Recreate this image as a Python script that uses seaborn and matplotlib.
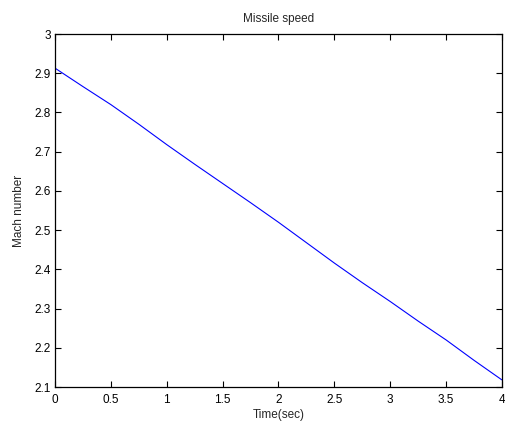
import matplotlib
matplotlib.use("Agg")
import matplotlib.pyplot as plt
import seaborn as sns
import pandas as pd

time_sec = [0, 0.25, 0.5, 0.75, 1.0, 1.25, 1.5, 1.75, 2.0, 2.25, 2.5, 2.75, 3.0, 3.25, 3.5, 3.75, 4.0]
mach = [2.913, 2.866, 2.820, 2.770, 2.718, 2.668, 2.619, 2.570, 2.520, 2.468, 2.416, 2.366, 2.318, 2.268, 2.220, 2.168, 2.118]
x_ticks = [0, 0.5, 1, 1.5, 2, 2.5, 3, 3.5, 4]
x_tick_labels = ["0", "0.5", "1", "1.5", "2", "2.5", "3", "3.5", "4"]
y_ticks = [2.1, 2.2, 2.3, 2.4, 2.5, 2.6, 2.7, 2.8, 2.9, 3.0]
y_tick_labels = ["2.1", "2.2", "2.3", "2.4", "2.5", "2.6", "2.7", "2.8", "2.9", "3"]

sns.set_style("white")
plt.rcParams['font.family'] = ['Liberation Sans', 'DejaVu Sans']

df = pd.DataFrame({"Time(sec)": time_sec, "Mach number": mach})

fig = plt.figure(figsize=(5.05, 4.23), dpi=100)
ax = fig.add_axes([0.1089, 0.0851, 0.8851, 0.8345])
sns.lineplot(data=df, x="Time(sec)", y="Mach number", ax=ax, color=(0, 0, 1), linewidth=0.8)

ax.set_xlim(0, 4)
ax.set_ylim(2.1, 3.0)
ax.set_xticks(x_ticks)
ax.set_xticklabels(x_tick_labels)
ax.set_yticks(y_ticks)
ax.set_yticklabels(y_tick_labels)
ax.tick_params(direction="in", length=4, width=0.8, labelsize=8.5, colors="black",
               top=True, right=True, bottom=True, left=True, pad=3)
ax.tick_params(axis="x", pad=5)
for s in ax.spines.values():
    s.set_visible(True)
    s.set_color("black")
    s.set_linewidth(0.9)
ax.set_xlabel("Time(sec)", fontsize=8.5, labelpad=2)
ax.set_ylabel("Mach number", fontsize=8.5, labelpad=7)
ax.set_title("Missile speed", fontsize=8.5, pad=9)

fig.savefig("out.png", dpi=100, facecolor="white")
